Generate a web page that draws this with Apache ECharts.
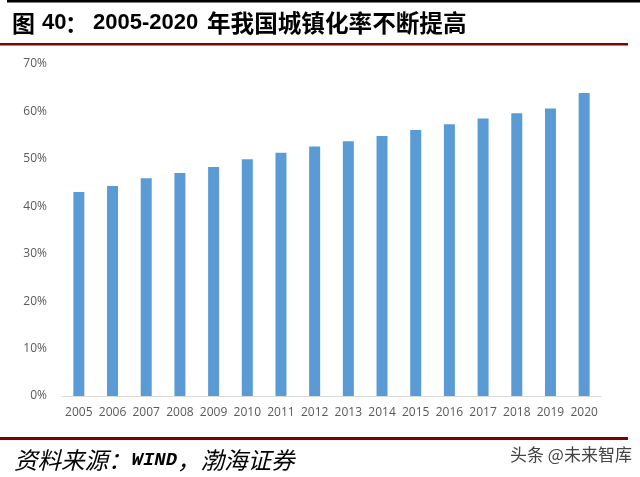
<!DOCTYPE html>
<html><head><meta charset="utf-8">
<script src="https://cdn.jsdelivr.net/npm/echarts@6/dist/echarts.min.js"></script>
<style>html,body{margin:0;padding:0;background:#fff}#c{width:640px;height:477px}</style>
</head><body><div id="c"></div>
<script>
const years = ['2005','2006','2007','2008','2009','2010','2011','2012','2013','2014','2015','2016','2017','2018','2019','2020'];
const urbanRate = [43.0, 44.3, 45.9, 47.0, 48.3, 49.9, 51.3, 52.6, 53.7, 54.8, 56.1, 57.3, 58.5, 59.6, 60.6, 63.9];
const titleParts = ['图', '40：', '2005-2020', '年我国城镇化率不断提高'];
const sourceParts = ['资料来源：', 'WIND', '，渤海证券'];
const watermark = '头条 @未来智库';

const tFont = 'bold 23px "Noto Sans CJK SC", sans-serif';
const tFont2 = 'bold 23.6px "Noto Sans CJK SC", sans-serif';
const tNum = 'bold 22px "Liberation Sans", Arial, sans-serif';
const chart = echarts.init(document.getElementById('c'), null, {renderer:'canvas'});
chart.setOption({
  animation:false,
  backgroundColor:'#fff',
  grid:{left:62,right:39,top:64,bottom:81},
  xAxis:{type:'category',data:years,
    axisLine:{lineStyle:{color:'#d9d9d9',width:1}},
    axisTick:{show:false},
    axisLabel:{color:'#595959',fontSize:12,fontFamily:'Open Sans, Liberation Sans, sans-serif',margin:11,interval:0}},
  yAxis:{type:'value',min:0,max:70,interval:10,
    axisLine:{show:false},axisTick:{show:false},splitLine:{show:false},
    axisLabel:{formatter:'{value}%',color:'#595959',fontSize:12,fontFamily:'Open Sans, Liberation Sans, sans-serif',margin:15}},
  series:[{type:'bar',data:urbanRate,barWidth:11,itemStyle:{color:'#5B9BD5'}}],
  graphic:[
    {type:'rect',shape:{x:7,y:0,width:633,height:2.5},style:{fill:'#000'}},
    {type:'text',x:12,y:23,style:{text:titleParts[0],font:tFont,fill:'#000',textVerticalAlign:'middle'}},
    {type:'text',x:42,y:23,style:{text:titleParts[1].slice(0,2),font:tNum,fill:'#000',textVerticalAlign:'middle'}},
    {type:'text',x:65,y:23,style:{text:titleParts[1].slice(2),font:tFont,fill:'#000',textVerticalAlign:'middle'}},
    {type:'text',x:93,y:23,style:{text:titleParts[2],font:tNum,fill:'#000',textVerticalAlign:'middle'}},
    {type:'text',x:207,y:23,style:{text:titleParts[3],font:tFont2,fill:'#000',textVerticalAlign:'middle'}},
    {type:'rect',shape:{x:0,y:43,width:628,height:2.5},style:{fill:'#7f0000'}},
    {type:'rect',shape:{x:0,y:437,width:628,height:3},style:{fill:'#7f0000'}},
    {type:'text',x:14,y:460,style:{
      text:'{a|'+sourceParts[0]+'}{b|'+sourceParts[1]+'}{a|'+sourceParts[2]+'}',
      textVerticalAlign:'middle',
      rich:{
        a:{fill:'#000',fontStyle:'italic',fontSize:23.5,fontFamily:'"Noto Sans CJK SC"'},
        b:{fontStyle:'italic',fontWeight:'bold',fontSize:19,fontFamily:'"Liberation Mono", monospace',fill:'#000'}
      }}},
    {type:'text',x:510,y:455,style:{text:watermark,font:'17px "Noto Sans CJK SC", sans-serif',fill:'#444',textVerticalAlign:'middle'}}
  ]
});
</script></body></html>
